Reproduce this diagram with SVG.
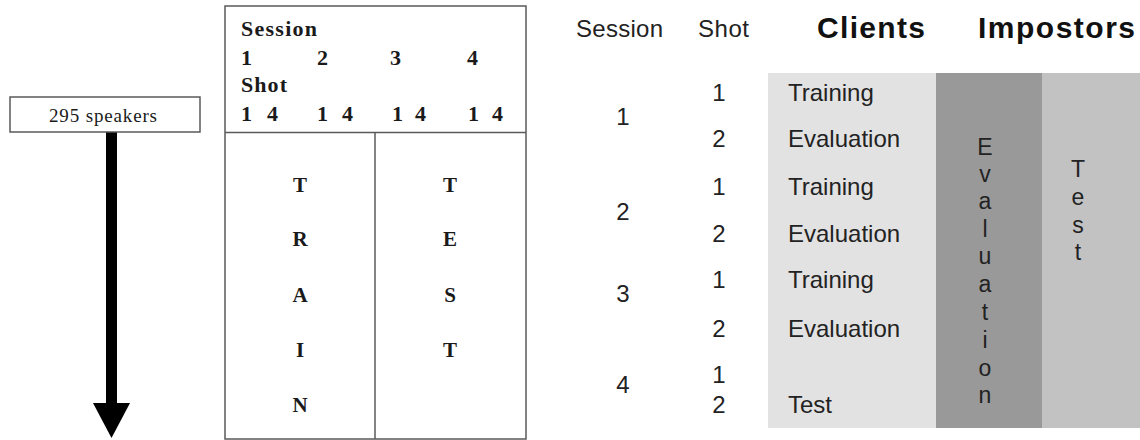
<svg xmlns="http://www.w3.org/2000/svg" width="1140" height="440" viewBox="0 0 1140 440">
  <style>
    .serif { font-family: "Liberation Serif", "Times New Roman", serif; fill: #1a1a1a; }
    .sb { font-weight: bold; font-size: 22px; }
    .big { font-weight: bold; font-size: 21px; text-anchor: middle; }
    .sans { font-family: "Liberation Sans", Arial, sans-serif; fill: #222; }
    .r24 { font-size: 24px; }
    .mid { text-anchor: middle; }
    .hb { font-weight: bold; font-size: 30px; fill: #111; }
    .vt { font-size: 23px; text-anchor: middle; }
    .box { fill: #fff; stroke: #5a5a5a; stroke-width: 1.5; }
  </style>
  <defs>
    <marker id="head" markerUnits="userSpaceOnUse" markerWidth="35" markerHeight="37" viewBox="0 0 35 37" refX="0" refY="18.5" orient="auto">
      <path d="M0,0 L35,18.5 L0,37 Z" fill="#000"/>
    </marker>
  </defs>
  <rect width="1140" height="440" fill="#fff"/>

  <!-- Left diagram -->
  <g id="speakers">
    <rect class="box" x="10" y="97" width="190" height="35"/>
    <text class="serif" x="103" y="122" font-size="19" text-anchor="middle" textLength="108" fill="#333">295 speakers</text>
  </g>

  <g id="connectors">
    <line x1="111.5" y1="132.5" x2="111.5" y2="403" stroke="#000" stroke-width="11" marker-end="url(#head)"/>
  </g>

  <g id="split-box">
    <rect class="box" x="225" y="6" width="301" height="433"/>
    <line x1="225" y1="132.5" x2="526" y2="132.5" stroke="#5a5a5a" stroke-width="1.5"/>
    <line x1="375" y1="132.5" x2="375" y2="439" stroke="#5a5a5a" stroke-width="1.5"/>
    <text class="serif sb" x="241" y="36" textLength="76">Session</text>
    <text class="serif sb" x="241" y="65">1</text>
    <text class="serif sb" x="317" y="65">2</text>
    <text class="serif sb" x="390" y="65">3</text>
    <text class="serif sb" x="467" y="65">4</text>
    <text class="serif sb" x="241" y="92" textLength="46">Shot</text>
    <text class="serif sb" x="241" y="121">1</text>
    <text class="serif sb" x="267" y="121">4</text>
    <text class="serif sb" x="317" y="121">1</text>
    <text class="serif sb" x="342" y="121">4</text>
    <text class="serif sb" x="392" y="121">1</text>
    <text class="serif sb" x="415" y="121">4</text>
    <text class="serif sb" x="468" y="121">1</text>
    <text class="serif sb" x="492" y="121">4</text>
  </g>
  <g id="train">
    <text class="serif big" x="300" y="192">T</text>
    <text class="serif big" x="300" y="246">R</text>
    <text class="serif big" x="300" y="302">A</text>
    <text class="serif big" x="300" y="357">I</text>
    <text class="serif big" x="300" y="412">N</text>
  </g>
  <g id="test">
    <text class="serif big" x="450" y="192">T</text>
    <text class="serif big" x="450" y="246">E</text>
    <text class="serif big" x="450" y="302">S</text>
    <text class="serif big" x="450" y="357">T</text>
  </g>

  <!-- Right table -->
  <g id="table-bg">
    <rect x="768" y="73" width="168" height="355" fill="#e2e2e2"/>
    <rect x="936" y="73" width="106" height="355" fill="#999999"/>
    <rect x="1042" y="73" width="98" height="355" fill="#c2c2c2"/>
  </g>
  <g id="headers">
    <text class="sans r24" x="576" y="37" textLength="87">Session</text>
    <text class="sans r24" x="698" y="37" textLength="51">Shot</text>
    <text class="sans hb" x="817" y="38" textLength="108">Clients</text>
    <text class="sans hb" x="978" y="38" textLength="157">Impostors</text>
  </g>
  <g id="sessions">
    <text class="sans r24 mid" x="623" y="125">1</text>
    <text class="sans r24 mid" x="623" y="220">2</text>
    <text class="sans r24 mid" x="623" y="302">3</text>
    <text class="sans r24 mid" x="623" y="393">4</text>
  </g>
  <g id="shots">
    <text class="sans r24 mid" x="719" y="101">1</text>
    <text class="sans r24 mid" x="719" y="147">2</text>
    <text class="sans r24 mid" x="719" y="195">1</text>
    <text class="sans r24 mid" x="719" y="242">2</text>
    <text class="sans r24 mid" x="719" y="288">1</text>
    <text class="sans r24 mid" x="719" y="337">2</text>
    <text class="sans r24 mid" x="719" y="383">1</text>
    <text class="sans r24 mid" x="719" y="413">2</text>
  </g>
  <g id="clients">
    <text class="sans r24" x="788" y="101">Training</text>
    <text class="sans r24" x="788" y="147">Evaluation</text>
    <text class="sans r24" x="788" y="195">Training</text>
    <text class="sans r24" x="788" y="242">Evaluation</text>
    <text class="sans r24" x="788" y="288">Training</text>
    <text class="sans r24" x="788" y="337">Evaluation</text>
    <text class="sans r24" x="788" y="413">Test</text>
  </g>
  <g id="impostors-eval">
    <text class="sans vt" x="985" y="155">E</text>
    <text class="sans vt" x="985" y="182">v</text>
    <text class="sans vt" x="985" y="209">a</text>
    <text class="sans vt" x="985" y="237">l</text>
    <text class="sans vt" x="985" y="264">u</text>
    <text class="sans vt" x="985" y="292">a</text>
    <text class="sans vt" x="985" y="320">t</text>
    <text class="sans vt" x="985" y="348">i</text>
    <text class="sans vt" x="985" y="376">o</text>
    <text class="sans vt" x="985" y="403">n</text>
  </g>
  <g id="impostors-test">
    <text class="sans vt" x="1078" y="177">T</text>
    <text class="sans vt" x="1078" y="205">e</text>
    <text class="sans vt" x="1078" y="233">s</text>
    <text class="sans vt" x="1078" y="260">t</text>
  </g>
</svg>
